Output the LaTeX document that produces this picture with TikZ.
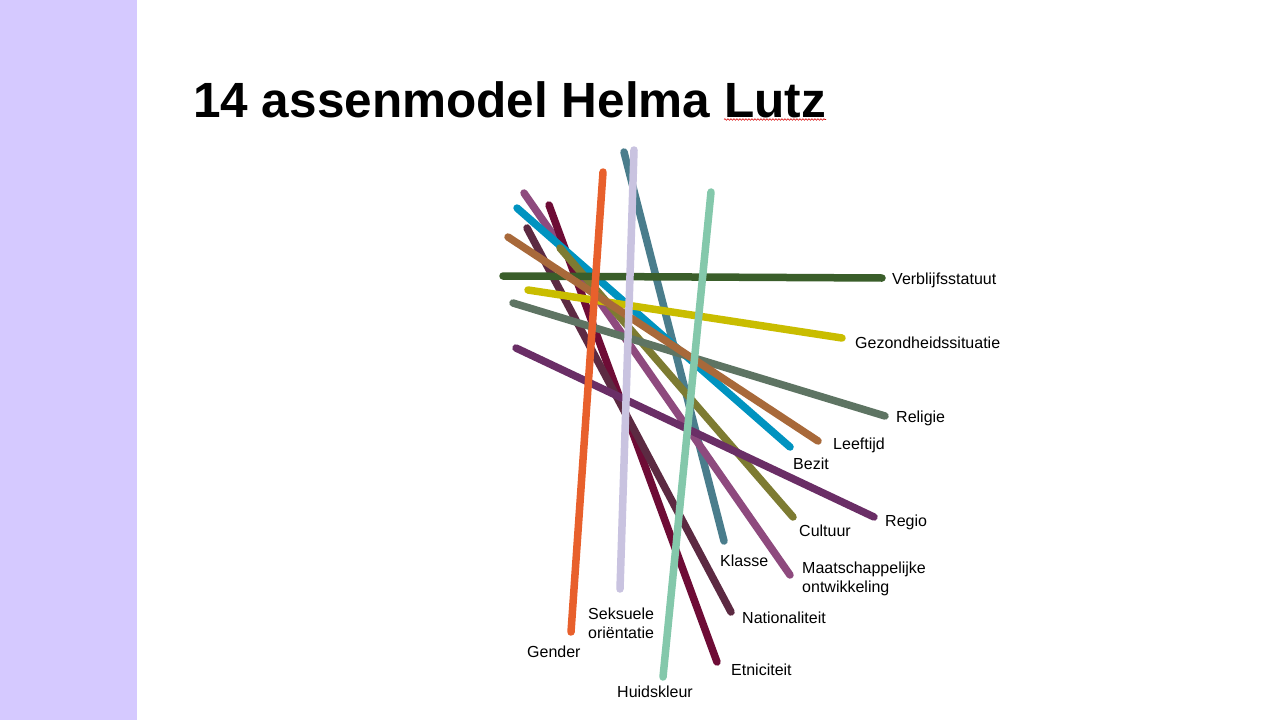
\documentclass[tikz,border=0pt]{standalone}
\usepackage{fontspec}
\setmainfont{Liberation Sans}
\usetikzlibrary{decorations.pathmorphing}
\definecolor{barcol}{HTML}{D5C9FF}
\definecolor{cgreen}{HTML}{3A5E2A}
\definecolor{cyellow}{HTML}{C9BD00}
\definecolor{cgrey}{HTML}{5E7463}
\definecolor{cbrown}{HTML}{A8693A}
\definecolor{cblue}{HTML}{0093C0}
\definecolor{colive}{HTML}{7D7B32}
\definecolor{cregio}{HTML}{6A2E66}
\definecolor{csteel}{HTML}{4A7D8C}
\definecolor{cpink}{HTML}{8E4A7E}
\definecolor{cplum}{HTML}{5C2A42}
\definecolor{cmaroon}{HTML}{6E0C36}
\definecolor{cmint}{HTML}{84C8AB}
\definecolor{corange}{HTML}{E8602C}
\definecolor{clav}{HTML}{C9C3E0}
\tikzset{
  axis/.style={line width=7.5pt, line cap=round},
  lbl/.style={anchor=west, inner sep=0pt, font=\fontsize{16}{19}\selectfont, align=left},
}
\begin{document}
\begin{tikzpicture}[x=1pt,y=-1pt]
\useasboundingbox (0,0) rectangle (1279,720);
\fill[white] (0,0) rectangle (1279,720);
\fill[barcol] (0,0) rectangle (137,720);
\node[anchor=base west, inner sep=0pt, font=\fontsize{49.5}{55}\selectfont\bfseries] (title) at (193,117) {14 assenmodel Helma Lutz};
\draw[red!85!black, line width=0.6pt, decorate, decoration={snake, amplitude=0.8pt, segment length=3pt}] (724,119.5) -- (826,119.5);

% endpoints
\coordinate (ks) at (624,152);  \coordinate (ke) at (724,541);
\coordinate (ms) at (524,193);  \coordinate (me) at (790,575);
\coordinate (es) at (549,205);  \coordinate (ee) at (717,662);
\coordinate (bs) at (517,208);  \coordinate (be) at (790,447);
\coordinate (cs) at (560,248);  \coordinate (ce) at (793,517);
\coordinate (ns) at (527,228);  \coordinate (ne) at (731,612);
\coordinate (vs) at (503,276);  \coordinate (ve) at (882,278);
\coordinate (gs) at (528,290);  \coordinate (ge) at (842,338);
\coordinate (rs) at (513,303);  \coordinate (re) at (885,416);
\coordinate (rgs) at (516,348); \coordinate (rge) at (874,517);
\coordinate (ls) at (508,237);  \coordinate (le) at (818,441);
\coordinate (os) at (603,172);  \coordinate (oe) at (571,632);
\coordinate (ss) at (634,150);  \coordinate (se) at (620,589);
\coordinate (hs) at (711,192);  \coordinate (he) at (663,677);

\draw[axis, csteel] (ks) -- (ke);
\draw[axis, cpink] (ms) -- (me);
\draw[axis, cmaroon] (es) -- (ee);
\draw[axis, cblue] (bs) -- (be);
\draw[axis, colive] (cs) -- (ce);
\draw[axis, cplum] (ns) -- (ne);
\draw[axis, cgreen] (vs) -- (ve);
\draw[axis, cyellow] (gs) -- (ge);
\draw[axis, cgrey] (rs) -- (re);
\draw[axis, cregio] (rgs) -- (rge);
\draw[axis, cbrown] (ls) -- (le);
\draw[axis, corange] (os) -- (oe);
\draw[axis, clav] (ss) -- (se);
\draw[axis, cmint] (hs) -- (he);

\node[lbl] (lv) at (892,280.5) {Verblijfsstatuut};
\node[lbl] (lg) at (855,342.5) {Gezondheidssituatie};
\node[lbl] (lr) at (896,418.5) {Religie};
\node[lbl] (ll) at (833,445.5) {Leeftijd};
\node[lbl] (lb) at (793,463.5) {Bezit};
\node[lbl] (lrg) at (885,522.5) {Regio};
\node[lbl] (lc) at (799,530.5) {Cultuur};
\node[lbl] (lk) at (720,560.5) {Klasse};
\node[lbl] (lm) at (802,579) {Maatschappelijke\\ontwikkeling};
\node[lbl] (ln) at (742,617.5) {Nationaliteit};
\node[lbl] (le2) at (731,669.5) {Etniciteit};
\node[lbl] (ls2) at (588,623) {Seksuele\\oriëntatie};
\node[lbl] (lo) at (527,651.5) {Gender};
\node[lbl] (lh) at (617,691.5) {Huidskleur};
\end{tikzpicture}
\end{document}
